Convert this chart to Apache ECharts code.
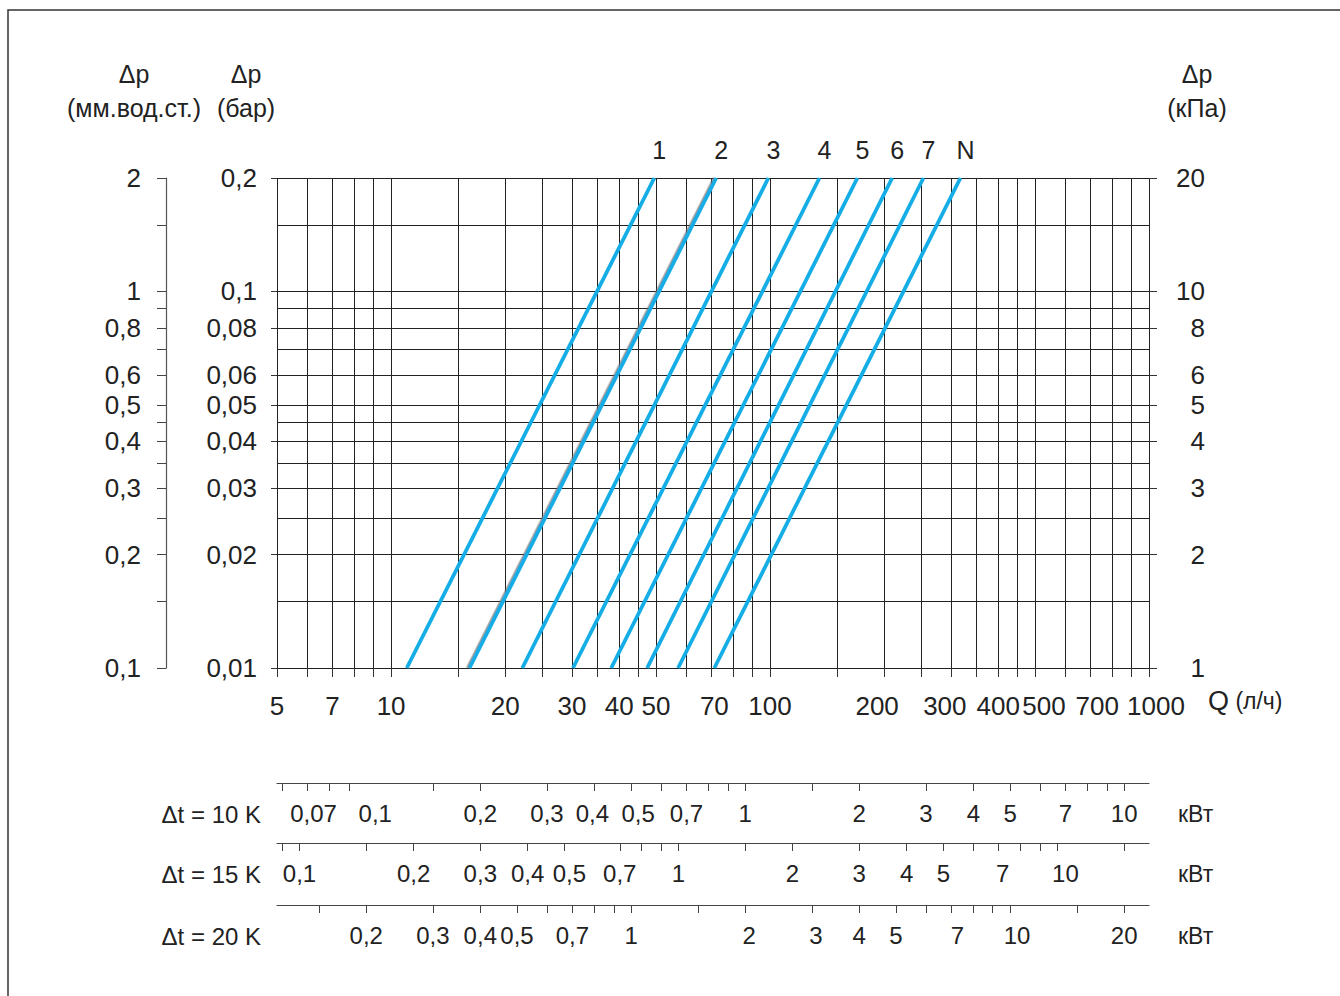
<!DOCTYPE html>
<html><head><meta charset="utf-8">
<script src="https://cdn.jsdelivr.net/npm/echarts@6/dist/echarts.min.js"></script>
<style>html,body{margin:0;padding:0;background:#fff}#c{width:1340px;height:996px}</style>
</head><body><div id="c"></div>
<script>
// ---------- data ----------
const curveNames = ['1','2','3','4','5','6','7','N'];
const qAtMin = [11.0, 16.1, 22.2, 30.2, 38.1, 47.4, 57.2, 71.3]; // Q (л/ч) at Δp = 0,01 бар
const qAtMax = [49.5, 72.1, 99.0, 135, 170, 210, 254, 318];      // Q (л/ч) at Δp = 0,2 бар
const dpMin = 0.01, dpMax = 0.2;
const qMin = 5, qMax = 1000;
const qGrid = [5,6,7,8,9,10,15,20,25,30,35,40,45,50,60,70,80,90,100,150,200,250,300,350,400,450,500,600,700,800,900,1000];
const qLabels = [5,7,10,20,30,40,50,70,100,200,300,400,500,700,1000];
const dpGrid = [0.01,0.015,0.02,0.025,0.03,0.035,0.04,0.045,0.05,0.06,0.07,0.08,0.09,0.1,0.15,0.2];
const dpLabels = [0.01,0.02,0.03,0.04,0.05,0.06,0.08,0.1,0.2];
const mmTicks = [0.1,0.15,0.2,0.25,0.3,0.35,0.4,0.45,0.5,0.6,0.7,0.8,0.9,1,1.5,2];
const mmLabels = [0.1,0.2,0.3,0.4,0.5,0.6,0.8,1,2];
const mmMin = 0.1, mmMax = 2;
const kpaLabels = [1,2,3,4,5,6,8,10,20];
const kpaMin = 1, kpaMax = 20;
const deltaTs = [10, 15, 20];
const kwTicks = [
  [0.06,0.07,0.08,0.09,0.15,0.2,0.3,0.4,0.5,0.6,0.7,0.8,0.9,1,1.5,2,3,4,5,6,7,8,9,10],
  [0.09,0.1,0.15,0.2,0.3,0.4,0.5,0.7,0.8,0.9,1,1.5,2,3,4,5,6,7,8,9,10,15],
  [0.15,0.2,0.3,0.4,0.5,0.6,0.7,0.8,0.9,1,1.5,2,3,4,5,6,7,8,9,10,15,20]
];
const kwLabels = [
  [0.07,0.1,0.2,0.3,0.4,0.5,0.7,1,2,3,4,5,7,10],
  [0.1,0.2,0.3,0.4,0.5,0.7,1,2,3,4,5,7,10],
  [0.2,0.3,0.4,0.5,0.7,1,2,3,4,5,7,10,20]
];
const waterHeat = 1.163; // Вт·ч/(л·K)

// ---------- layout / style (label nudges in px, as placed in the reference) ----------
const qLabelNudge = {'70': 3, '200': -7, '300': -6, '500': 9, '700': 7, '1000': 7};
const kwLabelNudge = [
  {'0,07': 6, '0,1': 9, '0,4': -2, '0,5': 7},
  {'0,5': 5, '7': 4, '10': 8},
  {'2': 4, '3': 4, '7': 6, '10': 7}
];

// ---------- helpers ----------
const L = v => Math.log10(v);
const fmt = v => String(Number(Math.pow(10, v).toPrecision(3))).replace('.', ',');
const FONT = '"Liberation Sans", Arial, Helvetica, sans-serif';
const TXT = '#222';
const FS = 26;
const FS_KW = 24;
const lineColor = '#14ade6';

function nudgedLabel(nudge, fs) {
  const rich = {};
  Object.values(nudge).forEach(s => {
    const k = (s > 0 ? 'r' : 'l') + Math.abs(s);
    rich[k] = {fontFamily: FONT, fontSize: fs, color: TXT,
      padding: s > 0 ? [0, 0, 0, 2 * s] : [0, -2 * s, 0, 0]};
  });
  return {
    rich,
    formatter: v => {
      const t = fmt(v);
      const s = nudge[t];
      if (!s) return t;
      return '{' + (s > 0 ? 'r' : 'l') + Math.abs(s) + '|' + t + '}';
    }
  };
}

const chart = echarts.init(document.getElementById('c'), null, {renderer: 'svg'});

const kwAxisOffsets = [115, 175, 237];
const kwAxes = deltaTs.map((dt, i) => ({
  type: 'value', position: 'bottom', offset: kwAxisOffsets[i],
  min: L(qMin * waterHeat * dt / 1000), max: L(qMax * waterHeat * dt / 1000),
  axisLine: {show: true, onZero: false, lineStyle: {color: '#444', width: 1.2}},
  axisTick: {show: true, length: 8, customValues: kwTicks[i].map(L), lineStyle: {color: '#444'}},
  axisLabel: Object.assign({show: true, customValues: kwLabels[i].map(L), margin: 18,
    fontFamily: FONT, fontSize: FS_KW, color: TXT}, nudgedLabel(kwLabelNudge[i], FS_KW)),
  splitLine: {show: false}
}));

const series = curveNames.map((n, i) => ({
  type: 'line', name: n, xAxisIndex: 0, yAxisIndex: 1,
  symbol: 'circle', symbolSize: 0.1, showSymbol: true, silent: true,
  lineStyle: Object.assign({color: lineColor, width: 3.8},
    i === 1 ? {shadowColor: 'rgba(110,110,110,0.75)', shadowOffsetX: -1.5, shadowBlur: 0} : {}),
  itemStyle: {color: lineColor},
  label: {show: false},
  data: [
    [L(qAtMin[i]), L(dpMin)],
    {value: [L(qAtMax[i]), L(dpMax)],
     label: {show: true, position: 'top', distance: 15, offset: [5, 0], formatter: n,
       fontFamily: FONT, fontSize: 25, color: TXT}}
  ],
  z: 5
}));

const headerStyle = (pad) => ({fontFamily: FONT, fontSize: 25, color: TXT, lineHeight: 34, align: 'center', padding: pad});

const option = {
  animation: false,
  backgroundColor: '#fff',
  grid: {left: 277, right: 191, top: 178, bottom: 328, containLabel: false},
  xAxis: [{
    type: 'value', position: 'bottom', min: L(qMin), max: L(qMax),
    name: '{q|Q} (л/ч)', nameLocation: 'end', nameGap: 59, nameMoveOverlap: false,
    nameTextStyle: {fontFamily: FONT, fontSize: 23, color: TXT, padding: [66, 0, 0, 0],
      rich: {q: {fontFamily: FONT, fontSize: 27, color: TXT}}},
    axisLine: {show: false, onZero: false},
    axisTick: {show: true, length: 9, customValues: qGrid.map(L), lineStyle: {color: '#333'}},
    axisLabel: Object.assign({show: true, customValues: qLabels.map(L), margin: 25,
      fontFamily: FONT, fontSize: FS, color: TXT}, nudgedLabel(qLabelNudge, FS)),
    splitLine: {show: true, lineStyle: {color: '#222', width: 1}}
  }].concat(kwAxes),
  yAxis: [
    { // grid lines
      type: 'value', position: 'left', min: L(dpMin), max: L(dpMax),
      axisLine: {show: false, onZero: false}, axisLabel: {show: false},
      axisTick: {show: false, customValues: dpGrid.map(L)},
      splitLine: {show: true, lineStyle: {color: '#222', width: 1}}
    },
    { // бар
      type: 'value', position: 'left', offset: 0, min: L(dpMin), max: L(dpMax),
      name: 'Δp\n(бар)', nameLocation: 'end', nameGap: 53, nameMoveOverlap: false,
      nameTextStyle: headerStyle([0, 62, 0, 0]),
      axisLine: {show: false, onZero: false},
      axisTick: {show: true, length: 6, customValues: dpLabels.map(L), lineStyle: {color: '#333'}},
      axisLabel: {show: true, customValues: dpLabels.map(L), formatter: fmt, margin: 20,
        fontFamily: FONT, fontSize: FS, color: TXT},
      splitLine: {show: false}
    },
    { // мм.вод.ст.
      type: 'value', position: 'left', offset: 111, min: L(mmMin), max: L(mmMax),
      name: 'Δp\n(мм.вод.ст.)', nameLocation: 'end', nameGap: 53, nameMoveOverlap: false,
      nameTextStyle: headerStyle([0, 64, 0, 0]),
      axisLine: {show: true, onZero: false, lineStyle: {color: '#555', width: 1.2}},
      axisTick: {show: true, length: 9, customValues: mmTicks.map(L), lineStyle: {color: '#444'}},
      axisLabel: {show: true, customValues: mmLabels.map(L), formatter: fmt, margin: 25,
        fontFamily: FONT, fontSize: FS, color: TXT},
      splitLine: {show: false}
    },
    { // кПа
      type: 'value', position: 'right', offset: 0, min: L(kpaMin), max: L(kpaMax),
      name: 'Δp\n(кПа)', nameLocation: 'end', nameGap: 53, nameMoveOverlap: false,
      nameTextStyle: headerStyle([0, 0, 0, 96]),
      axisLine: {show: false, onZero: false},
      axisTick: {show: true, length: 8, customValues: kpaLabels.map(L), lineStyle: {color: '#333'}},
      axisLabel: {show: true, customValues: kpaLabels.map(L), formatter: fmt, margin: 56, align: 'right',
        fontFamily: FONT, fontSize: FS, color: TXT},
      splitLine: {show: false}
    }
  ],
  graphic: [
    {type: 'polyline', shape: {points: [[8, 996], [8, 10], [1340, 10]]}, style: {stroke: '#333', lineWidth: 1.5, fill: null}, silent: true},
    ...deltaTs.map((dt, i) => ({
      type: 'text', x: 261, y: 668 + kwAxisOffsets[i] + 31,
      style: {text: 'Δt = ' + dt + ' K', fontFamily: FONT, fontSize: FS_KW, fill: TXT,
        align: 'right', verticalAlign: 'middle'}
    })),
    ...kwAxisOffsets.map((o, i) => ({
      type: 'text', x: 1178, y: 668 + o + 31,
      style: {text: 'кВт', fontFamily: FONT, fontSize: FS_KW - 1, fill: TXT, align: 'left', verticalAlign: 'middle'}
    }))
  ],
  series
};
chart.setOption(option);
</script>
</body></html>
